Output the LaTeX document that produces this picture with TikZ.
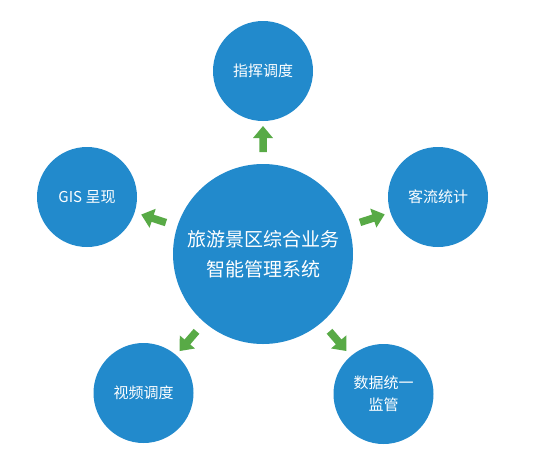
\documentclass[tikz,border=0pt]{standalone}
\usepackage{fontspec}
\setmainfont{Noto Sans CJK SC}
\usetikzlibrary{calc}
\definecolor{cblue}{RGB}{34,138,204}
\definecolor{cgreen}{RGB}{88,170,70}
\begin{document}
\begin{tikzpicture}[x=1pt,y=-1pt,
  circ/.style={circle, fill=cblue, text=white, inner sep=0pt, align=center},
  small/.style={circ, minimum size=100pt, font=\fontsize{15}{22}\selectfont},
  big/.style={circ, minimum size=180pt, font=\fontsize{19}{30}\selectfont},
  arr/.style={fill=cgreen}]
\useasboundingbox (0,0) rectangle (535,472);
\node[big] (c) at (263,254) {旅游景区综合业务\\智能管理系统};
\node[small] (top) at (263,71) {指挥调度};
\node[small] (rt) at (438,197) {客流统计};
\node[small] (lf) at (87,197) {GIS 呈现};
\node[small] (bl) at (143.5,393) {视频调度};
\node[small] (br) at (383.5,394) {数据统一\\监管};
\foreach \t/\a in {top/90, rt/18, lf/162, br/-49.3, bl/-130.7}{
  \fill[arr, shift={($(c)!115pt!(\t)$)}, rotate=\a]
    (-13,-3.75) -- (1,-3.75) -- (1,-10) -- (13,0) -- (1,10) -- (1,3.75) -- (-13,3.75) -- cycle;
}
\end{tikzpicture}
\end{document}
